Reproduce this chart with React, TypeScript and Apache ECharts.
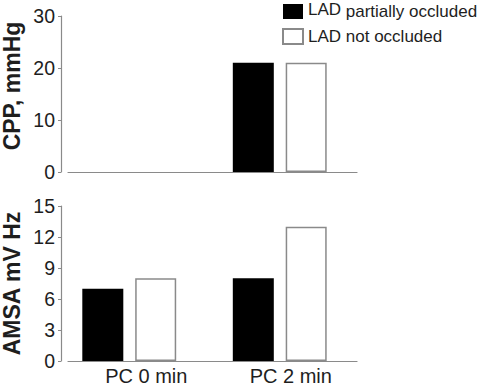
import React, { useEffect, useRef } from "react";
import * as echarts from "echarts";

const categories = ["PC 0 min", "PC 2 min"];
const seriesNames = ["LAD partially occluded", "LAD not occluded"];
const cppPartial: (number | null)[] = [null, 21];
const cppNot: (number | null)[] = [null, 21];
const amsaPartial = [7, 8];
const amsaNot = [8, 13];
const cppMax = 30;
const cppStep = 10;
const amsaMax = 15;
const amsaStep = 3;

const FONT = "'Liberation Sans', Arial, Helvetica, sans-serif";
const TEXT = "#1e1e1e";
const AXIS = "#8a8a8a";

export default function App() {
  const ref = useRef<HTMLDivElement>(null);
  useEffect(() => {
    if (!ref.current) return;
    const chart = echarts.init(ref.current, null, { renderer: "svg" });
    const visibleY = (gridIndex: number, max: number, step: number, name: string, padding: number[]) => ({
      type: "value",
      gridIndex,
      min: 0,
      max,
      interval: step,
      offset: 7,
      name,
      nameLocation: "middle",
      nameGap: 38,
      nameMoveOverlap: false,
      nameTextStyle: { fontFamily: FONT, fontSize: 23, fontWeight: "bold", color: TEXT, padding },
      axisLine: { show: true, lineStyle: { color: AXIS, width: 1.2 } },
      axisTick: { show: true, length: 3, lineStyle: { color: AXIS } },
      axisLabel: { fontFamily: FONT, fontSize: 19.5, color: TEXT, margin: 6 },
      splitLine: { show: false },
    });
    const hiddenY = (gridIndex: number, max: number) => ({
      type: "value",
      gridIndex,
      min: 0,
      max,
      show: false,
      splitLine: { show: false },
    });
    const blackStyle = { color: "#000000" };
    const whiteStyle = { color: "#ffffff", borderColor: AXIS, borderWidth: 1.5 };
    const bar = (name: string, data: (number | null)[], axis: number, style: any) => ({
      type: "bar",
      name,
      data,
      xAxisIndex: axis,
      yAxisIndex: axis,
      barWidth: 41,
      barGap: "29%",
      itemStyle: style,
      emphasis: { disabled: true },
    });
    chart.setOption({
      animation: false,
      backgroundColor: "#ffffff",
      legend: {
        orient: "vertical",
        left: 282,
        top: 1,
        padding: 0,
        itemWidth: 20,
        itemHeight: 15,
        itemGap: 8,
        icon: "rect",
        data: seriesNames,
        selectedMode: false,
        formatter: (name: string) => {
          const i = name.indexOf(" ");
          const head = name.slice(0, i);
          const rest = name.slice(i);
          return name === seriesNames[0] ? `{a|${head}}{b|${rest}}` : `{c|${name}}`;
        },
        textStyle: {
          fontFamily: FONT,
          fontSize: 17,
          color: TEXT,
          rich: {
            a: { fontFamily: FONT, fontSize: 17, color: TEXT, lineHeight: 18, verticalAlign: "top" },
            b: { fontFamily: FONT, fontSize: 17, color: TEXT, lineHeight: 21 },
            c: { fontFamily: FONT, fontSize: 17, color: TEXT, lineHeight: 21 },
          },
        },
      },
      grid: [
        { left: 68, right: 123, top: 16, bottom: 214, outerBoundsMode: "none" },
        { left: 54, right: 125, top: 16, bottom: 214, outerBoundsMode: "none" },
        { left: 68, right: 123, top: 206, bottom: 25, outerBoundsMode: "none" },
        { left: 54, right: 125, top: 206, bottom: 25, outerBoundsMode: "none" },
      ],
      xAxis: [
        {
          type: "category",
          gridIndex: 0,
          data: categories,
          axisLine: { show: true, lineStyle: { color: AXIS, width: 1.2 } },
          axisTick: { show: false },
          axisLabel: { show: false },
        },
        { type: "category", gridIndex: 1, data: categories, show: false },
        {
          type: "category",
          gridIndex: 2,
          data: categories,
          axisLine: { show: true, lineStyle: { color: AXIS, width: 1.2 } },
          axisTick: { show: false },
          axisLabel: { fontFamily: FONT, fontSize: 20, color: TEXT, margin: 5, padding: [0, 0, 0, 12] },
        },
        { type: "category", gridIndex: 3, data: categories, show: false },
      ],
      yAxis: [
        visibleY(0, cppMax, cppStep, "CPP, mmHg", [0, 0, 0, 16]),
        hiddenY(1, cppMax),
        visibleY(2, amsaMax, amsaStep, "AMSA mV Hz", [0, 0, 0, 0]),
        hiddenY(3, amsaMax),
      ],
      series: [
        bar(seriesNames[0], cppPartial, 1, blackStyle),
        bar(seriesNames[1], cppNot, 1, whiteStyle),
        bar(seriesNames[0], amsaPartial, 3, blackStyle),
        bar(seriesNames[1], amsaNot, 3, whiteStyle),
      ],
    });
    return () => chart.dispose();
  }, []);
  return (
    <div
      ref={ref}
      style={{ position: "fixed", left: 0, top: 0, width: 480, height: 386, background: "#fff" }}
    />
  );
}
